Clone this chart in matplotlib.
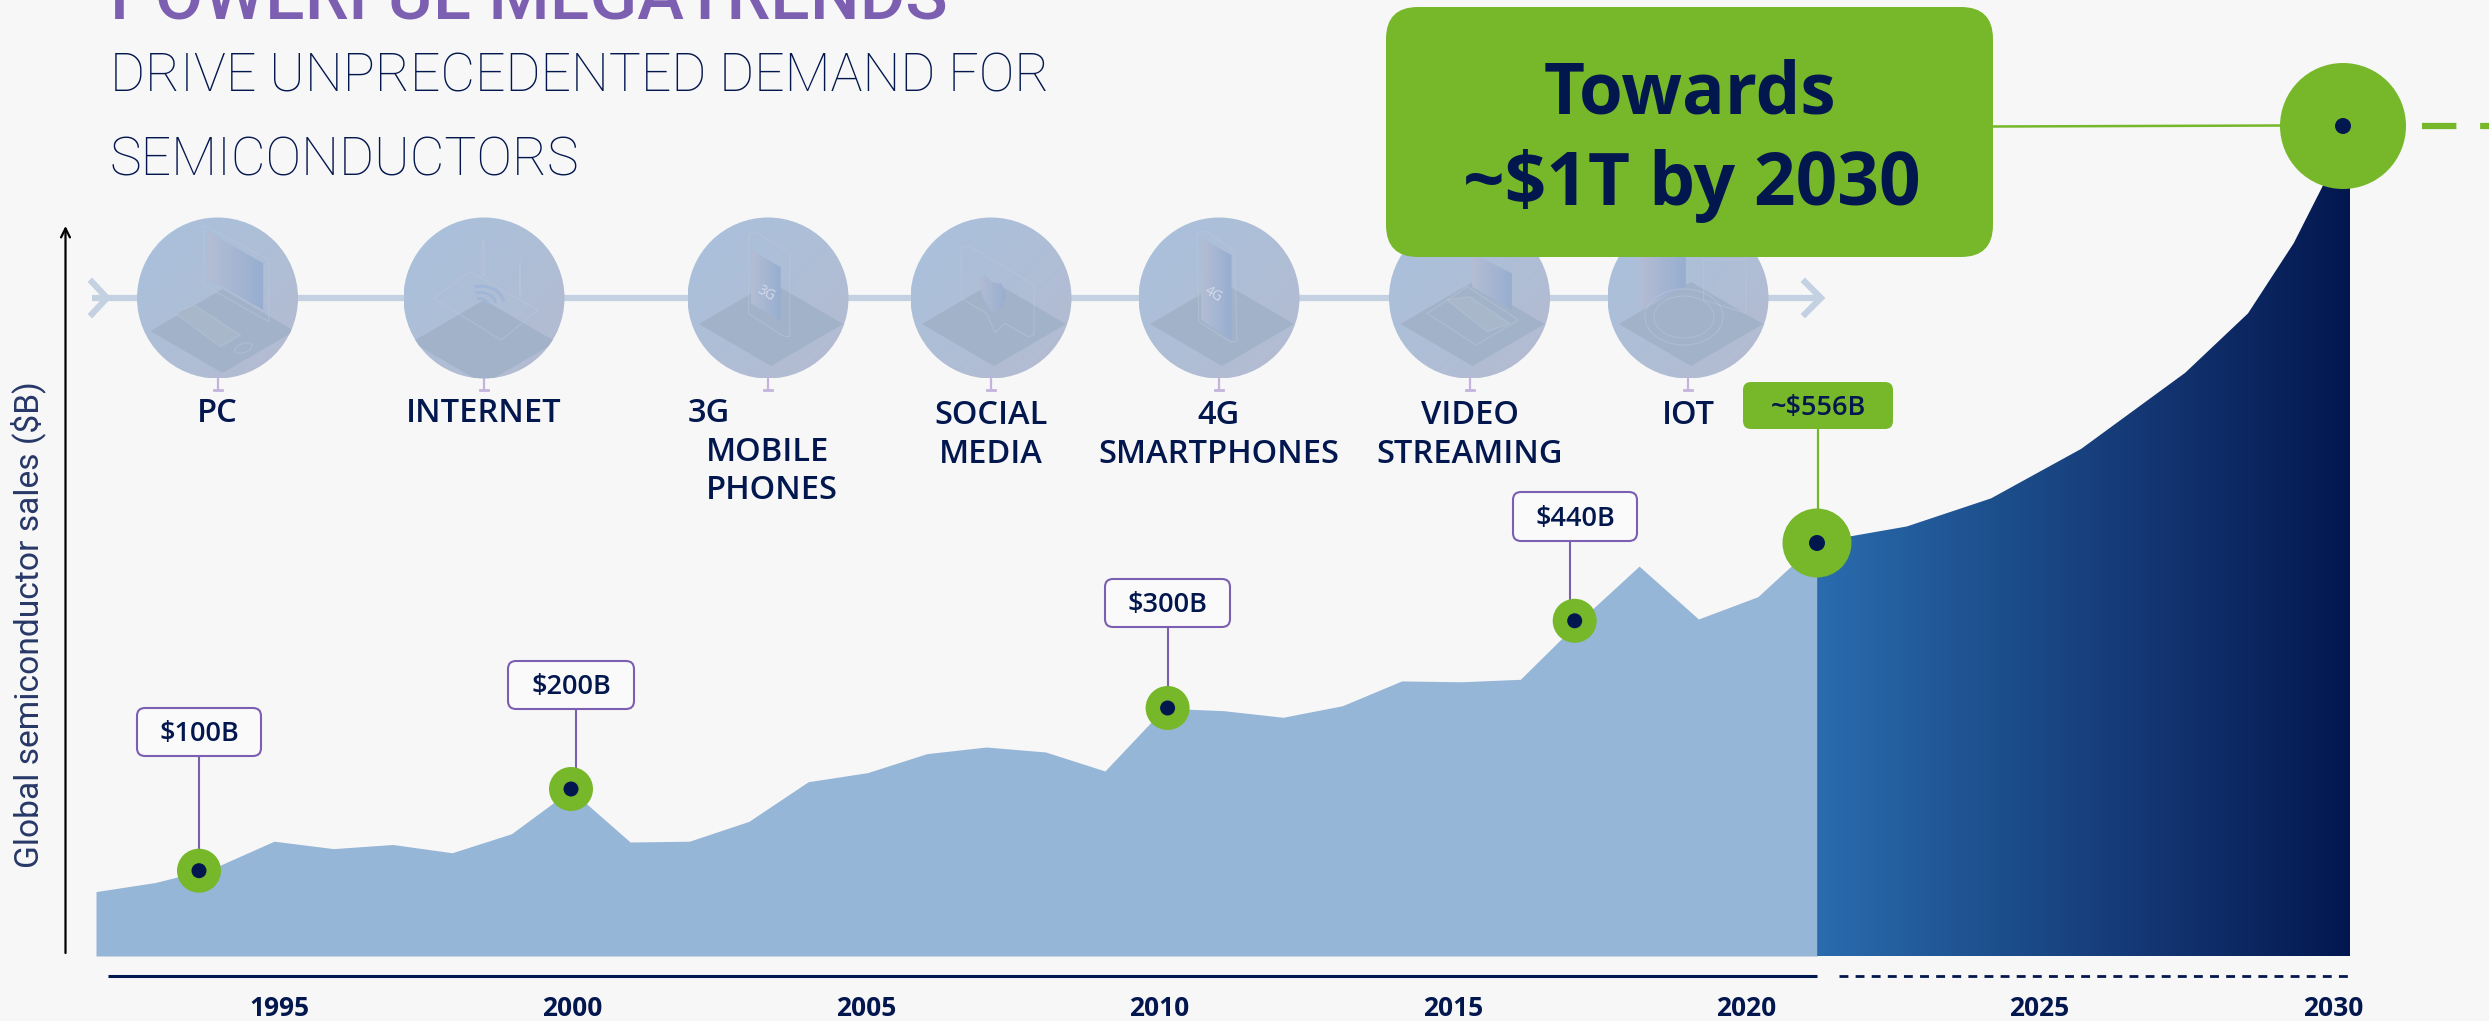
import numpy as np
import matplotlib
matplotlib.use("Agg")
import matplotlib.pyplot as plt
from matplotlib.patches import FancyBboxPatch, Circle, Polygon, Ellipse, Arc
from matplotlib.colors import LinearSegmentedColormap

# ---------- data ----------
hist_years = list(range(1992, 2022))
hist_sales = [78, 89, 107, 139, 130, 135, 125, 148, 201, 138, 139, 163, 211, 222, 245,
              253, 247, 224, 300, 297, 289, 303, 333, 332, 335, 406, 472, 408, 435, 501]
fut_years = [2021, 2022.51, 2023.93, 2025.45, 2027.2, 2028.26, 2029.03, 2029.51, 2030]
fut_sales = [501, 520, 554, 614, 706, 778, 863, 931, 1005]
tick_years = [1995, 2000, 2005, 2010, 2015, 2020, 2025, 2030]
categories = ["PC", "INTERNET", "3G", "SOCIAL\nMEDIA", "4G\nSMARTPHONES", "VIDEO\nSTREAMING", "IOT"]
callouts = ["$100B", "$200B", "$300B", "$440B", "~$556B"]

# ---------- style ----------
BG = "#f7f7f7"; NAVY = "#03174f"; GREEN = "#76b82a"; PURPLE = "#7d5fb2"
AREA = "#96b6d8"; LINE = "#c3d1e2"; W, H = 2489, 1021
SANS = ["Open Sans", "Noto Sans", "DejaVu Sans"]
LIGHT = ["Roboto", "Open Sans", "DejaVu Sans"]

fig = plt.figure(figsize=(W/100, H/100), dpi=100, facecolor=BG)

# data axes: full figure, year/value scale
PXY, X0, PY, Y0 = 59.35, 96, 0.826, 956
ax = fig.add_axes([0, 0, 1, 1], facecolor="none")
xl = (1992 - X0/PXY, 1992 + (W - X0)/PXY)
yl = (-(H - Y0)/PY, Y0/PY)
ax.set_xlim(xl); ax.set_ylim(yl); ax.axis("off")
ax.fill_between(hist_years, hist_sales, 0, color=AREA, lw=0, zorder=1)
poly = ax.fill_between(fut_years, fut_sales, 0, facecolor="none", lw=0)
cm = LinearSegmentedColormap.from_list("g", ["#2a6cae", "#1d4f8d", "#12336f", NAVY])
im = ax.imshow(np.linspace(0, 1, 256)[None, :], extent=(2021, 2030 - 0.02, 0, 1100), aspect="auto",
               cmap=cm, zorder=2, origin="lower")
im.set_clip_path(poly.get_paths()[0], ax.transData)
ax.set_xlim(xl); ax.set_ylim(yl)

# tick label axes
TPX = (2333 - 279) / 35
axt = fig.add_axes([0, (H - 976)/H, 1, 1e-4], facecolor="none")
axt.set_xlim(1995 - 279/TPX, 1995 + (W - 279)/TPX)
for s in axt.spines.values():
    s.set_visible(False)
axt.set_yticks([])
axt.set_xticks(tick_years)
axt.set_xticklabels([str(t) for t in tick_years], family=SANS, fontsize=19, fontweight="bold", color=NAVY)
axt.tick_params(axis="x", length=0, pad=14)

# pixel overlay
ov = fig.add_axes([0, 0, 1, 1], facecolor="none")
ov.set_xlim(0, W); ov.set_ylim(H, 0); ov.axis("off")

def T(x, y, s, **k):
    k.setdefault("family", SANS); k.setdefault("color", NAVY)
    k.setdefault("ha", "center"); k.setdefault("va", "center")
    return ov.text(x, y, s, **k)

# titles
T(110, 19, "POWERFUL MEGATRENDS", ha="left", va="baseline", color=PURPLE, fontsize=50.5, fontweight="medium", family=LIGHT)
T(110, 92, "DRIVE UNPRECEDENTED DEMAND FOR", ha="left", va="baseline", fontsize=38.5, fontweight="light", family=LIGHT)
T(110, 176, "SEMICONDUCTORS", ha="left", va="baseline", fontsize=38.5, fontweight="light", family=LIGHT)

# y axis
ov.annotate("", xy=(65.5, 226), xytext=(65.5, 953),
            arrowprops=dict(arrowstyle="->", color="black", lw=1.6, shrinkA=0, shrinkB=0, mutation_scale=16))
T(28, 625, "Global semiconductor sales ($B)", rotation=90, fontsize=24.2, fontweight="normal", family=LIGHT, alpha=0.85)

# x axis lines
ov.plot([107.6, 1817], [976, 976], color=NAVY, lw=2.2, solid_capstyle="butt")
ov.plot([1839, 2352], [976, 976], color=NAVY, lw=2.0, dashes=(3.2, 2.6))

# timeline
ov.plot([92, 1818], [298, 298], color=LINE, lw=4.5, zorder=2, solid_capstyle="butt")
ov.plot([92, 107, 92], [282, 298, 314], color=LINE, lw=4.5, zorder=2, solid_joinstyle="miter")
ov.plot([1805, 1821, 1805], [282, 298, 314], color=LINE, lw=4.5, zorder=2, solid_joinstyle="miter")

centers = [217.5, 484, 768, 991, 1219, 1469.5, 1688]
dia_dy = [33, 44, 26, 26, 26, 26, 26]
dia_dx = [5, 0, 3, 3, 3, 3, 3]
R = 80.5; CY = 298
circ_cm = LinearSegmentedColormap.from_list("c", ["#a9c1dd", "#b4bbd0"])
scr_cm = LinearSegmentedColormap.from_list("s", ["#b4bdd4", "#97aed0"])
yy, xx = np.mgrid[0:1:64j, 0:1:64j]
diag = (xx + (1 - yy)) / 2

def gradfill(pts, zo=5):
    pts = np.array(pts, float)
    p = Polygon(pts, closed=True, facecolor="none", edgecolor="none", zorder=zo)
    ov.add_patch(p)
    g = ov.imshow(np.linspace(0, 1, 64)[None, :], cmap=scr_cm, aspect="auto", zorder=zo,
                  extent=(pts[:, 0].min(), pts[:, 0].max(), pts[:, 1].max(), pts[:, 1].min()))
    g.set_clip_path(p)

def outline(pts, zo=6, **k):
    k.setdefault("lw", 0.8); k.setdefault("edgecolor", "#bcc8dc80"); k.setdefault("facecolor", "none")
    ov.add_patch(Polygon(pts, closed=True, zorder=zo, **k))

for i, c in enumerate(centers):
    cp = Circle((c, CY), R, facecolor="none", edgecolor="none", zorder=3)
    ov.add_patch(cp)
    g = ov.imshow(diag, cmap=circ_cm, aspect="auto", zorder=3, extent=(c-R, c+R, CY+R, CY-R), origin="lower")
    g.set_clip_path(cp)
    dd = dia_dy[i]; dx = dia_dx[i]
    d = Polygon([(c+dx-72, CY+dd), (c+dx, CY+dd-42), (c+dx+72, CY+dd), (c+dx, CY+dd+42)],
                closed=True, facecolor="#a2b2c8", edgecolor="none", zorder=4)
    ov.add_patch(d); d.set_clip_path(cp)
    # stem under each circle
    ov.plot([c, c], [CY+R, CY+R+11], color="#c4b4dd", lw=1.6, zorder=3)
    ov.plot([c-4, c+4], [CY+R+11, CY+R+11], color="#c4b4dd", lw=2, zorder=3)

def P(cx, sx, czx, pts):
    return [(cx + (a - czx)*sx, CY + (b - 264)/3) for a, b in pts]

# PC
c = centers[0]; f = lambda q: P(c, 1/3, 261, q)
gradfill(f([(232, 65), (398, 160), (398, 300), (232, 205)]))
outline(f([(220, 45), (415, 150), (415, 335), (220, 225)]))
outline(f([(135, 310), (190, 285), (330, 375), (270, 410)]), facecolor="#a9b7ca")
ov.add_patch(Ellipse((c+26, CY+50), 18, 9, angle=-20, fill=False, ec="#bcc8dc80", lw=0.8, zorder=6))
# router
c = centers[1]; f = lambda q: P(c, 1/3, 1063, q)
outline(f([(912, 265), (1020, 185), (1225, 300), (1115, 390)]))
outline(f([(1057, 90), (1062, 90), (1062, 195), (1057, 195)]))
outline(f([(1167, 155), (1172, 155), (1172, 255), (1167, 255)]))
for r in (10, 18, 26):
    ov.add_patch(Arc((c-6, CY+8), r*2, r*1.5, theta1=-90, theta2=0, angle=-10, ec="#a0b6d7", lw=2, zorder=6))
# 3G phone
c = centers[2]; f = lambda q: P(c, 1/3, 265, q)
outline(f([(207, 75), (228, 65), (330, 130), (330, 380), (310, 378), (207, 310)]))
gradfill(f([(213, 120), (303, 172), (303, 333), (213, 280)]))
T(c-2, CY-5, "3G", fontsize=10, color="#d4dcea", rotation=-30, zorder=7)
# social media heart
c = centers[3]; f = lambda q: P(c, 1/3, 933, q)
outline(f([(843, 115), (868, 108), (1062, 225), (1062, 375), (1045, 380), (975, 340), (945, 368), (920, 310), (843, 265)]))
gradfill(f([(890, 205), (915, 195), (940, 220), (965, 220), (978, 260), (965, 295), (935, 305), (910, 265)]))
# 4G phone
c = centers[4]; f = lambda q: P(c, 0.4464, 200, q)
outline(f([(150, 70), (170, 62), (235, 125), (240, 395), (225, 395), (155, 335)]))
gradfill(f([(160, 85), (228, 135), (228, 390), (160, 330)]))
T(c-6, CY-4, "4G", fontsize=10, color="#d4dcea", rotation=-30, zorder=7)
# video laptop
c = centers[5]; f = lambda q: P(c, 0.4464, 760, q)
gradfill(f([(765, 130), (855, 190), (855, 300), (765, 230)]))
outline(f([(665, 310), (755, 230), (870, 330), (775, 405)]))
outline(f([(710, 270), (760, 260), (850, 340), (800, 365)]), facecolor="#a9b7ca")
# IoT
c = centers[6]; f = lambda q: P(c, 0.4464, 1250, q)
gradfill(f([(1140, 140), (1245, 140), (1245, 230), (1140, 300)]))
outline(f([(1285, 150), (1380, 150), (1380, 310), (1285, 270)]))
ov.add_patch(Ellipse((c-4, CY+19), 78, 56, fill=False, ec="#bcc8dc80", lw=0.8, zorder=6))
ov.add_patch(Ellipse((c-4, CY+19), 60, 42, fill=False, ec="#bcc8dc80", lw=0.8, zorder=6))

# category labels
CF = dict(fontsize=23.5, fontweight="semibold")
T(217.5, 413, categories[0], **CF)
T(484, 413, categories[1], **CF)
T(688, 413, categories[2], ha="left", **CF)
T(706, 452, "MOBILE", ha="left", **CF)
T(706, 490, "PHONES", ha="left", **CF)
for i, c in [(3, 991), (4, 1219), (5, 1469.5)]:
    a, b = categories[i].split("\n")
    T(c, 415, a, **CF)
    T(c, 454, b, **CF)
T(1688, 415, categories[6], **CF)

# callouts: box x0,x1,y0,y1, stem x, stem end, marker x,y,r
spec = [(137, 261, 708, 756, 199, 850, 199, 870.7, 22),
        (508, 634, 661, 709, 575.5, 770, 571, 789, 22),
        (1105, 1230, 579, 627, 1167.6, 688, 1167.6, 708, 22),
        (1513, 1637, 492, 541, 1570, 600, 1574.7, 620.8, 22)]
def rbox(x0, x1, y0, y1, r, **k):
    ov.add_patch(FancyBboxPatch((x0+r, y0+r), x1-x0-2*r, y1-y0-2*r,
                                boxstyle=f"round,pad={r},rounding_size={r}", **k))
for lab, (x0, x1, y0, y1, sx, se, mx, my, mr) in zip(callouts, spec):
    ov.plot([sx, sx], [y1, se], color=PURPLE, lw=1.5, zorder=7)
    rbox(x0, x1, y0, y1, 8, facecolor="#fafafa", edgecolor=PURPLE, lw=1.5, zorder=8)
    T((x0+x1)/2, (y0+y1)/2 + 2, lab, fontsize=19.5, fontweight="semibold", zorder=9)
    ov.add_patch(Circle((mx, my), mr, facecolor=GREEN, edgecolor="none", zorder=8))
    ov.add_patch(Circle((mx, my), 7.5, facecolor=NAVY, edgecolor="none", zorder=9))

# 556B
ov.plot([1818, 1818], [429, 510], color=GREEN, lw=1.6, zorder=7)
rbox(1743, 1893, 382, 429, 8, facecolor=GREEN, edgecolor="none", zorder=8)
T(1818, 408, callouts[4], fontsize=19.5, fontweight="semibold", zorder=9)
ov.add_patch(Circle((1817, 543), 34.5, facecolor=GREEN, edgecolor="none", zorder=8))
ov.add_patch(Circle((1817, 543), 8, facecolor=NAVY, edgecolor="none", zorder=9))

# top callout
rbox(1386, 1993, 7, 257, 32, facecolor=GREEN, edgecolor="none", zorder=10)
T(1690, 94, "Towards", fontsize=51, fontweight="bold", zorder=11)
T(1692, 186, "~$1T by 2030", fontsize=52.5, fontweight="bold", zorder=11)
ov.plot([1993, 2282], [126.5, 125.5], color=GREEN, lw=1.8, zorder=9)
ov.add_patch(Circle((2343, 126), 63, facecolor=GREEN, edgecolor="none", zorder=10))
ov.add_patch(Circle((2343, 126), 8, facecolor=NAVY, edgecolor="none", zorder=11))
ov.plot([2422, 2489], [126, 126], color=GREEN, lw=4.5, dashes=(5.5, 3.8), zorder=9, dash_capstyle="butt")
ov.set_xlim(0, W); ov.set_ylim(H, 0)

fig.savefig("out.png", dpi=100, facecolor=BG)
